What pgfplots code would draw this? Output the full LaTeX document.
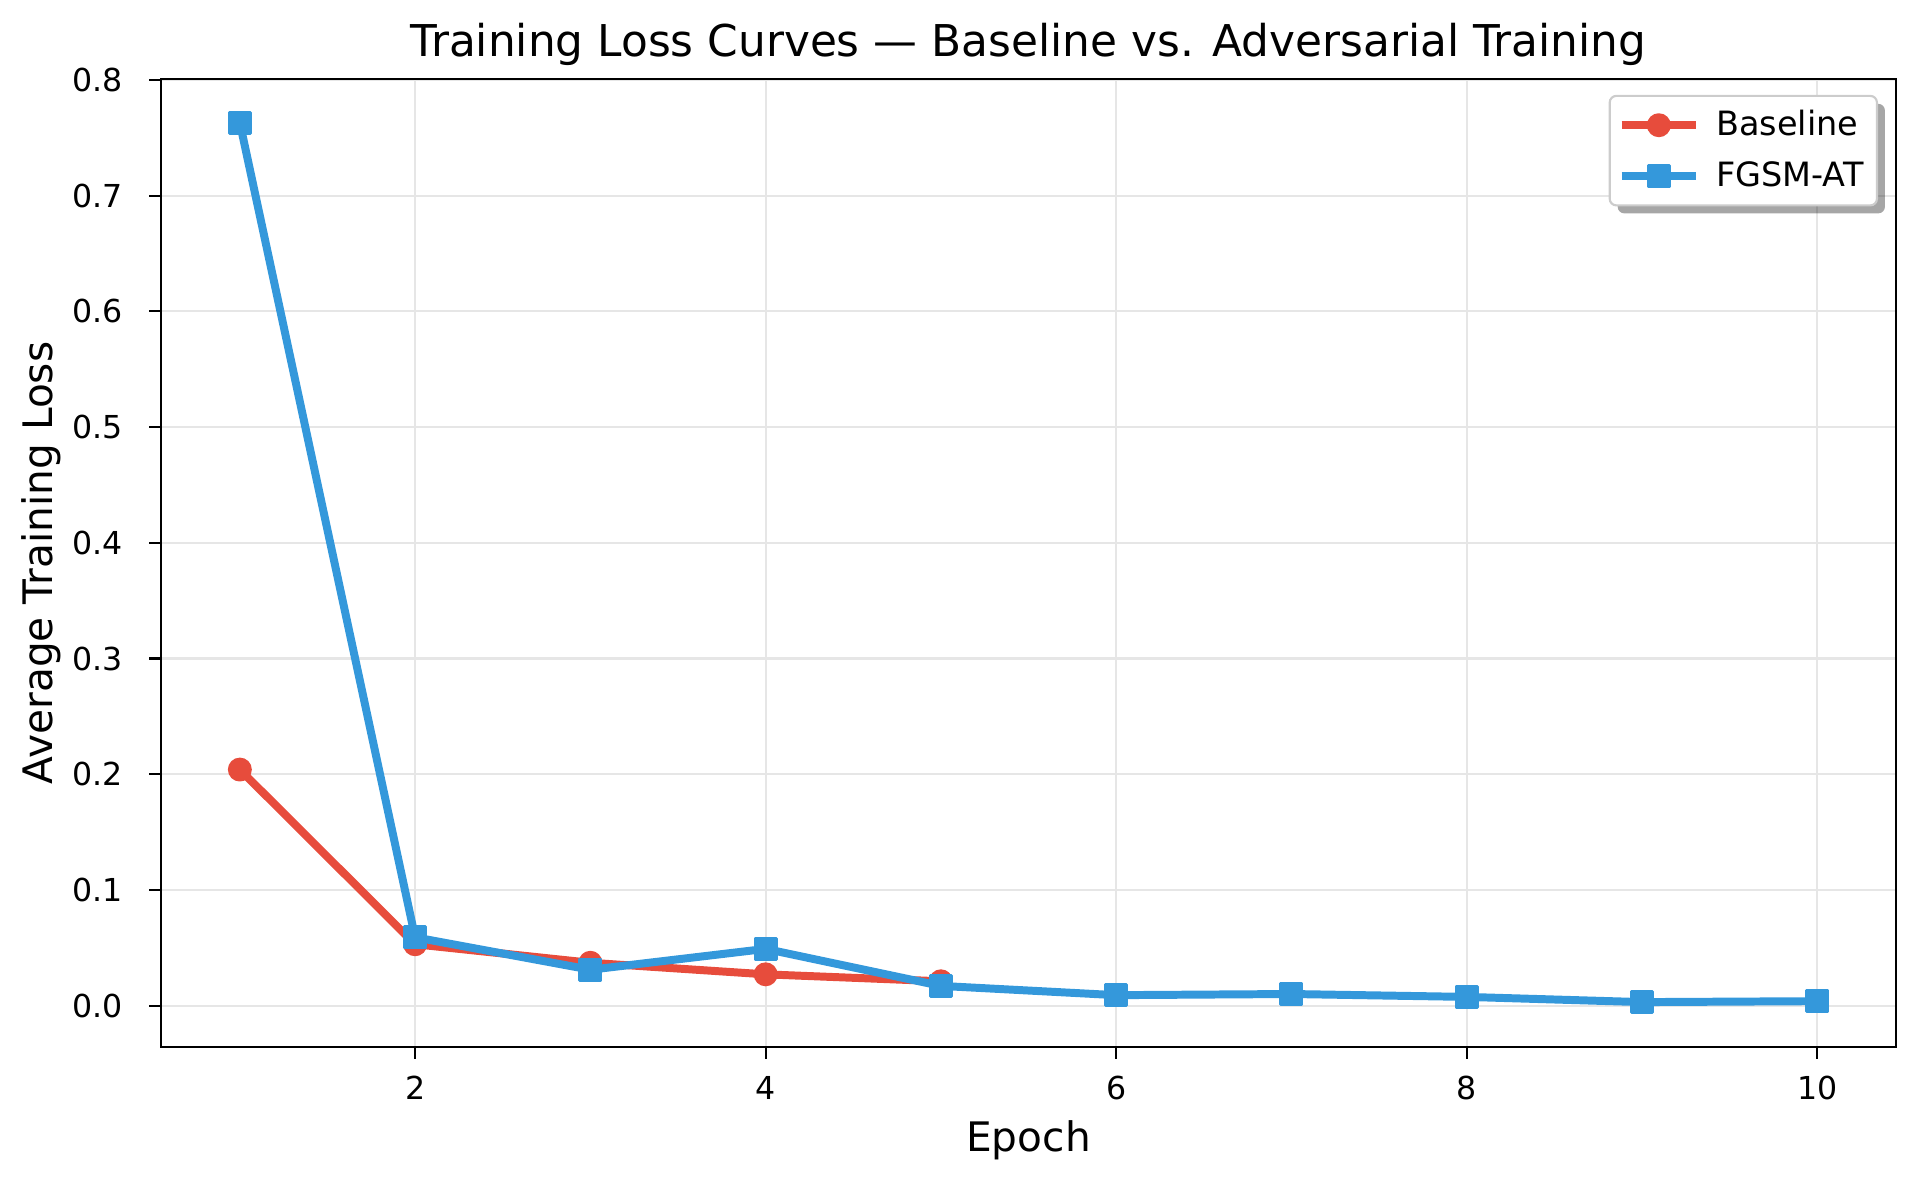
\documentclass[border=0pt]{standalone}
\usepackage{fontspec}
\setmainfont{DejaVu Sans}
\usepackage{pgfplots}
\pgfplotsset{compat=1.18}
\usetikzlibrary{shadows}
\definecolor{cRed}{RGB}{231,76,60}
\definecolor{cBlue}{RGB}{52,152,219}
\definecolor{gridc}{RGB}{230,230,230}
\makeatletter
\tikzset{no preactions/.code={\let\tikz@preactions\pgfutil@empty}}
\makeatother
\begin{document}
\begin{tikzpicture}
\begin{axis}[
  at={(0,0)}, anchor=south west,
  scale only axis, width=653.1pt, height=364.4pt,
  xmin=0.55, xmax=10.45, ymin=-0.0358, ymax=0.801,
  xtick={2,4,6,8,10},
  ytick={0,0.1,0.2,0.3,0.4,0.5,0.6,0.7,0.8},
  xtick pos=bottom, ytick pos=left,
  tick align=outside, major tick length=4.5pt,
  tick style={line width=0.8pt, black},
  axis line style={line width=0.8pt},
  grid=major, major grid style={gridc, line width=0.8pt},
  /pgf/number format/assume math mode=true,
  ticklabel style={font=\fontsize{11.9pt}{14pt}\selectfont},
  xticklabel style={anchor=base, inner sep=0pt, yshift=-15.2pt},
  yticklabel style={/pgf/number format/.cd, fixed, fixed zerofill, precision=1, /tikz/.cd, anchor=east, inner sep=0pt, xshift=-9.8pt},
  title={Training Loss Curves — Baseline vs. Adversarial Training},
  title style={at={(0.5,1)}, anchor=base, yshift=2.3pt, font=\fontsize{16.5pt}{19pt}\selectfont},
  xlabel={Epoch},
  every axis x label/.style={at={(axis description cs:0.5,0)}, anchor=base, yshift=-39.5pt, font=\fontsize{15.3pt}{18pt}\selectfont},
  ylabel={Average Training Loss},
  every axis y label/.style={at={(axis description cs:0,0.5)}, xshift=-40.7pt, rotate=90, anchor=base, font=\fontsize{15.3pt}{18pt}\selectfont},
  legend image code/.code={\draw[no preactions, sharp corners, mark repeat=2, mark phase=2, #1] plot coordinates {(0pt,0pt) (14pt,0pt) (28pt,0pt)};},
  legend style={at={(1,1)}, anchor=north east, xshift=-6.8pt, yshift=-6pt,
    draw=black!20, line width=0.8pt, rounded corners=2.5pt, fill=white,
    font=\fontsize{12.6pt}{15pt}\selectfont,
    inner xsep=3pt, inner ysep=3.5pt, row sep=4.3pt,
    cells={anchor=west},
    drop shadow={shadow xshift=3pt, shadow yshift=-3pt, fill=black, opacity=0.35},
    /tikz/every odd column/.append style={column sep=4.1pt}},
]
\addplot[cRed, line width=3pt, line join=round, mark=*, mark size=4pt, mark options={solid, sharp corners, line width=1pt, fill=cRed, draw=cRed}]
  coordinates {(1,0.204) (2,0.053) (3,0.037) (4,0.027) (5,0.021)};
\addlegendentry{Baseline}
\addplot[cBlue, line width=3pt, line join=round, mark=square*, mark size=4pt, mark options={solid, sharp corners, line width=1pt, fill=cBlue, draw=cBlue}]
  coordinates {(1,0.763) (2,0.059) (3,0.031) (4,0.049) (5,0.017) (6,0.009) (7,0.010) (8,0.0075) (9,0.003) (10,0.0038)};
\addlegendentry{FGSM-AT}
\end{axis}
\pgfresetboundingbox
\path[use as bounding box] (-60.6pt,-51.9pt) rectangle (662.1pt,394.1pt);
\end{tikzpicture}
\end{document}
